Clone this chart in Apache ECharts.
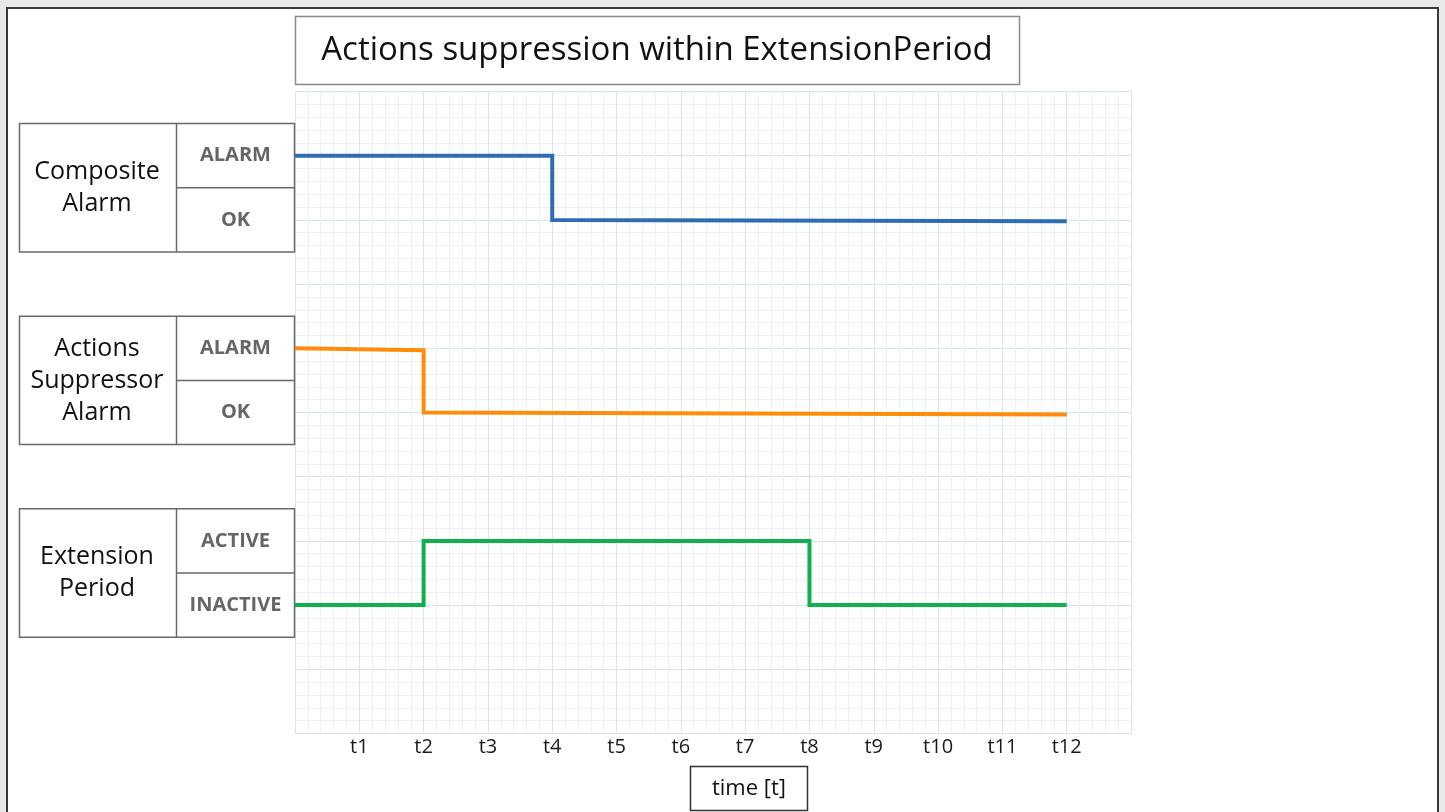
<!DOCTYPE html>
<html>
<head>
<meta charset="utf-8">
<title>Actions suppression within ExtensionPeriod</title>
<script src="https://cdn.jsdelivr.net/npm/echarts@6/dist/echarts.min.js"></script>
<style>
  html, body { margin: 0; padding: 0; background: #e9e9e9; }
  #chart { width: 1445px; height: 812px; }
</style>
</head>
<body>
<div id="chart"></div>
<script>
  // time ticks, 0 and 13 are the grid edges
  const timeLabels = ['', 't1', 't2', 't3', 't4', 't5', 't6', 't7', 't8', 't9', 't10', 't11', 't12', '']

  // [t, level] step points, levels
  const compositeAlarm = [[0, 9], [4, 9], [4, 8], [12, 7.98]]
  const suppressorAlarm = [[0, 6], [2, 5.97], [2, 5], [12, 4.97]]
  const extensionPeriod = [[0, 2], [2, 2], [2, 3], [8, 3], [8, 2], [12, 2]]

  // left side boxes: name, upper state, lower state, upper level
  const rowNames = ['Composite\nAlarm', 'Actions\nSuppressor\nAlarm', 'Extension\nPeriod']
  const rowStates = [['ALARM', 'OK'], ['ALARM', 'OK'], ['ACTIVE', 'INACTIVE']]
  const rowLevels = [9, 6, 3]

  const font = '"Open Sans", "Noto Sans", sans-serif'

  const chart = echarts.init(document.getElementById('chart'))

  const lineSeries = (data, color) => ({
    type: 'line',
    data,
    showSymbol: false,
    animation: false,
    lineStyle: { color, width: 4, cap: 'butt', join: 'miter' }
  })

  chart.setOption({
    backgroundColor: 'transparent',
    grid: { left: 295, right: 314, top: 91.5, bottom: 78.5 },
    xAxis: {
      type: 'value',
      min: 0,
      max: 13,
      interval: 1,
      axisLine: { show: false },
      axisTick: { show: false },
      axisLabel: {
        formatter: v => timeLabels[v] || '',
        fontFamily: font,
        fontSize: 20,
        color: '#1a1a1a',
        margin: 4
      },
      splitLine: { show: true, lineStyle: { color: '#d3e7f0', width: 1 } },
      minorTick: { show: false, splitNumber: 5 },
      minorSplitLine: { show: true, lineStyle: { color: '#e8f2f7', width: 1 } }
    },
    yAxis: {
      type: 'value',
      min: 0,
      max: 10,
      interval: 1,
      axisLine: { show: false },
      axisTick: { show: false },
      axisLabel: { show: false },
      splitLine: { show: true, lineStyle: { color: '#d3e7f0', width: 1 } },
      minorTick: { show: false, splitNumber: 5 },
      minorSplitLine: { show: true, lineStyle: { color: '#e8f2f7', width: 1 } }
    },
    series: [
      lineSeries(compositeAlarm, '#2e6db4'),
      lineSeries(suppressorAlarm, '#ff8c0a'),
      lineSeries(extensionPeriod, '#10b04d')
    ]
  })

  // boxes placed from the y scale
  const graphics = []
  graphics.push({
    type: 'rect', silent: true, z: -10,
    shape: { x: 7, y: 8, width: 1431, height: 830 },
    style: { fill: '#ffffff', stroke: '#3a3a3a', lineWidth: 2 }
  })
  graphics.push({
    type: 'rect', silent: true,
    shape: { x: 295.5, y: 16.5, width: 724, height: 68 },
    style: { fill: '#ffffff', stroke: '#8a8a8a', lineWidth: 1.5 }
  })
  graphics.push({
    type: 'text', silent: true,
    style: {
      text: 'Actions suppression within ExtensionPeriod',
      x: 657, y: 51, align: 'center', verticalAlign: 'middle',
      font: '33px ' + font, fill: '#111111'
    }
  })
  graphics.push({
    type: 'rect', silent: true,
    shape: { x: 690.5, y: 766.5, width: 117, height: 44 },
    style: { fill: '#ffffff', stroke: '#333333', lineWidth: 1.5 }
  })
  graphics.push({
    type: 'text', silent: true,
    style: {
      text: 'time [t]',
      x: 749, y: 789, align: 'center', verticalAlign: 'middle',
      font: '22px ' + font, fill: '#111111'
    }
  })

  rowLevels.forEach((lvl, i) => {
    const yTop = chart.convertToPixel({ yAxisIndex: 0 }, lvl + 0.5)
    const yMid = chart.convertToPixel({ yAxisIndex: 0 }, lvl - 0.5)
    const yBot = chart.convertToPixel({ yAxisIndex: 0 }, lvl - 1.5)
    const yUp = chart.convertToPixel({ yAxisIndex: 0 }, lvl)
    const yLow = chart.convertToPixel({ yAxisIndex: 0 }, lvl - 1)
    graphics.push({
      type: 'rect', silent: true,
      shape: { x: 19.5, y: yTop, width: 275, height: yBot - yTop },
      style: { fill: '#ffffff', stroke: '#6a6a6a', lineWidth: 1.5 }
    })
    graphics.push({
      type: 'polyline', silent: true,
      shape: { points: [[176.5, yTop], [176.5, yBot]] },
      style: { stroke: '#6a6a6a', lineWidth: 1.5 }
    })
    graphics.push({
      type: 'polyline', silent: true,
      shape: { points: [[176.5, yMid], [294.5, yMid]] },
      style: { stroke: '#6a6a6a', lineWidth: 1.5 }
    })
    graphics.push({
      type: 'text', silent: true,
      style: {
        text: rowNames[i],
        x: 97, y: (yTop + yBot) / 2, align: 'center', verticalAlign: 'middle',
        font: '25px ' + font, lineHeight: 32, fill: '#111111'
      }
    })
    graphics.push({
      type: 'text', silent: true,
      style: {
        text: rowStates[i][0],
        x: 235.5, y: yUp, align: 'center', verticalAlign: 'middle',
        font: 'bold 20px ' + font, fill: '#666666'
      }
    })
    graphics.push({
      type: 'text', silent: true,
      style: {
        text: rowStates[i][1],
        x: 235.5, y: yLow, align: 'center', verticalAlign: 'middle',
        font: 'bold 20px ' + font, fill: '#666666'
      }
    })
  })

  chart.setOption({ graphic: graphics })
</script>
</body>
</html>
